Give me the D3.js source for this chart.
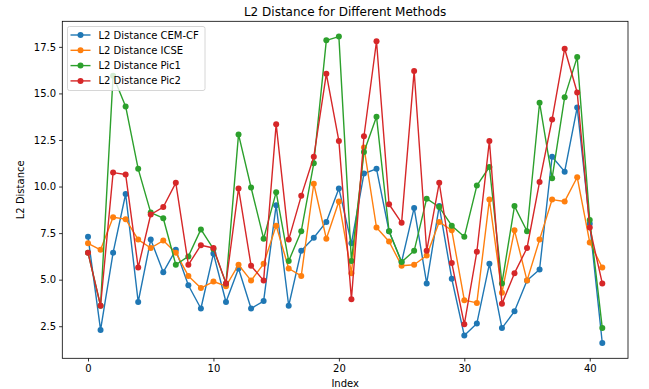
<!DOCTYPE html>
<html>
<head>
<meta charset="utf-8">
<script src="https://cdn.jsdelivr.net/npm/d3@7"></script>
<style>
  body { margin: 0; background: #fff; }
  text { font-family: "DejaVu Sans", sans-serif; fill: #000; }
</style>
</head>
<body>
<div id="chart"></div>
<script>
// values
const cemcf = [7.3, 2.3, 6.45, 9.6, 3.8, 7.15, 5.4, 6.6, 4.7, 3.45,
  6.4, 3.8, 5.6, 3.45, 3.85, 9.0, 3.6, 6.55, 7.25, 8.1,
  9.9, 6.95, 10.7, 10.95, 7.6, 5.95, 8.85, 4.8, 8.95, 5.05,
  2.0, 2.65, 5.85, 2.4, 3.3, 4.95, 5.55, 11.6, 10.8, 14.25,
  8.0, 1.6]
const icse = [6.95, 6.6, 8.35, 8.25, 7.15, 6.7, 7.1, 6.45, 5.2, 4.55,
  4.9, 4.65, 5.8, 4.95, 5.85, 7.9, 5.6, 5.2, 10.15, 7.2,
  9.2, 5.35, 12.1, 7.8, 7.05, 5.75, 5.8, 6.3, 8.1, 7.65,
  3.9, 3.75, 9.3, 4.3, 7.65, 4.95, 7.15, 9.3, 9.2, 10.5,
  7.0, 5.65]
const pic1 = [6.45, 3.6, 15.95, 14.3, 10.95, 8.6, 8.3, 5.8, 6.25, 7.7,
  6.65, 4.8, 12.8, 9.95, 7.2, 9.7, 6.0, 7.6, 11.25, 17.85,
  18.05, 6.0, 11.85, 13.75, 7.6, 5.95, 6.55, 9.35, 8.9, 7.9,
  7.3, 10.05, 11.05, 4.8, 8.95, 7.6, 14.5, 10.45, 14.8, 16.95,
  8.2, 2.4]
const pic2 = [6.45, 3.6, 10.75, 10.65, 5.65, 8.5, 8.9, 10.2, 5.8, 6.85,
  6.7, 4.8, 9.9, 5.75, 4.95, 13.35, 7.15, 9.5, 11.6, 16.05,
  12.45, 3.95, 12.7, 17.8, 9.05, 8.05, 16.2, 6.55, 10.2, 5.9,
  2.6, 6.5, 12.45, 3.7, 5.35, 6.7, 10.25, 13.6, 17.4, 15.05,
  7.8, 4.8]

const seriesNames = ["L2 Distance CEM-CF", "L2 Distance ICSE", "L2 Distance Pic1", "L2 Distance Pic2"]
const colors = ["#1f77b4", "#ff7f0e", "#2ca02c", "#d62728"]
const xTicks = [0, 10, 20, 30, 40]
const yTicks = [2.5, 5.0, 7.5, 10.0, 12.5, 15.0, 17.5]

const series = [cemcf, icse, pic1, pic2].map((vals, k) => ({
  name: seriesNames[k],
  color: colors[k],
  points: vals.map((v, i) => ({ x: i, y: v }))
}))

const width = 649, height = 389
const m = { left: 62.3, right: 628, top: 21.3, bottom: 358.3 }

const svg = d3.select("#chart").append("svg")
  .attr("width", width)
  .attr("height", height)

// matplotlib style 5% margins
const n = cemcf.length
const xPad = (n - 1) * 0.05
const x = d3.scaleLinear([-xPad, n - 1 + xPad], [m.left, m.right])
const all = [].concat(cemcf, icse, pic1, pic2)
const yMin = d3.min(all), yMax = d3.max(all)
const yPad = (yMax - yMin) * 0.05
const y = d3.scaleLinear([yMin - yPad, yMax + yPad], [m.bottom, m.top])

// axes
const xAxis = svg.append("g")
  .attr("transform", `translate(0,${m.bottom})`)
  .call(d3.axisBottom(x).tickValues(xTicks).tickSize(3.2).tickPadding(3).tickFormat(d3.format("d")))
const yAxis = svg.append("g")
  .attr("transform", `translate(${m.left},0)`)
  .call(d3.axisLeft(y).tickValues(yTicks).tickSize(3.2).tickPadding(3).tickFormat(d3.format(".1f")))

;[xAxis, yAxis].forEach(g => {
  g.select(".domain").remove()
  g.selectAll(".tick line").attr("stroke", "#000").attr("stroke-width", 0.8)
  g.selectAll(".tick text").attr("font-size", 10).attr("font-family", "DejaVu Sans").attr("fill", "#000")
})

// lines + markers
const line = d3.line().x(d => x(d.x)).y(d => y(d.y))
const sg = svg.append("g").attr("class", "series")
series.forEach(s => {
  const g = sg.append("g")
  g.append("path")
    .attr("d", line(s.points))
    .attr("fill", "none")
    .attr("stroke", s.color)
    .attr("stroke-width", 1.4)
    .attr("stroke-linejoin", "round")
  g.selectAll("circle")
    .data(s.points)
    .join("circle")
    .attr("cx", d => x(d.x))
    .attr("cy", d => y(d.y))
    .attr("r", 3)
    .attr("fill", s.color)
})

// frame
svg.append("rect")
  .attr("x", m.left).attr("y", m.top)
  .attr("width", m.right - m.left).attr("height", m.bottom - m.top)
  .attr("fill", "none").attr("stroke", "#000").attr("stroke-width", 0.8)

// titles
svg.append("text")
  .attr("x", (m.left + m.right) / 2).attr("y", 15.5)
  .attr("text-anchor", "middle").attr("font-size", 12)
  .text("L2 Distance for Different Methods")
svg.append("text")
  .attr("x", (m.left + m.right) / 2).attr("y", 387)
  .attr("text-anchor", "middle").attr("font-size", 10)
  .text("Index")
svg.append("text")
  .attr("transform", `translate(24,${(m.top + m.bottom) / 2}) rotate(-90)`)
  .attr("text-anchor", "middle").attr("font-size", 10)
  .text("L2 Distance")

// legend
const leg = svg.append("g").attr("transform", "translate(67.5,26.5)")
leg.append("rect")
  .attr("width", 137.5).attr("height", 64).attr("rx", 2)
  .attr("fill", "#fff").attr("fill-opacity", 0.8)
  .attr("stroke", "#ccc").attr("stroke-width", 0.8)
series.forEach((s, i) => {
  const row = leg.append("g").attr("transform", `translate(0,${8.5 + i * 15.3})`)
  row.append("line").attr("x1", 3).attr("x2", 23)
    .attr("stroke", s.color).attr("stroke-width", 1.4)
  row.append("circle").attr("cx", 13).attr("r", 3).attr("fill", s.color)
  row.append("text").attr("x", 31).attr("dy", "0.35em")
    .attr("font-size", 10).text(s.name)
})
</script>
</body>
</html>
